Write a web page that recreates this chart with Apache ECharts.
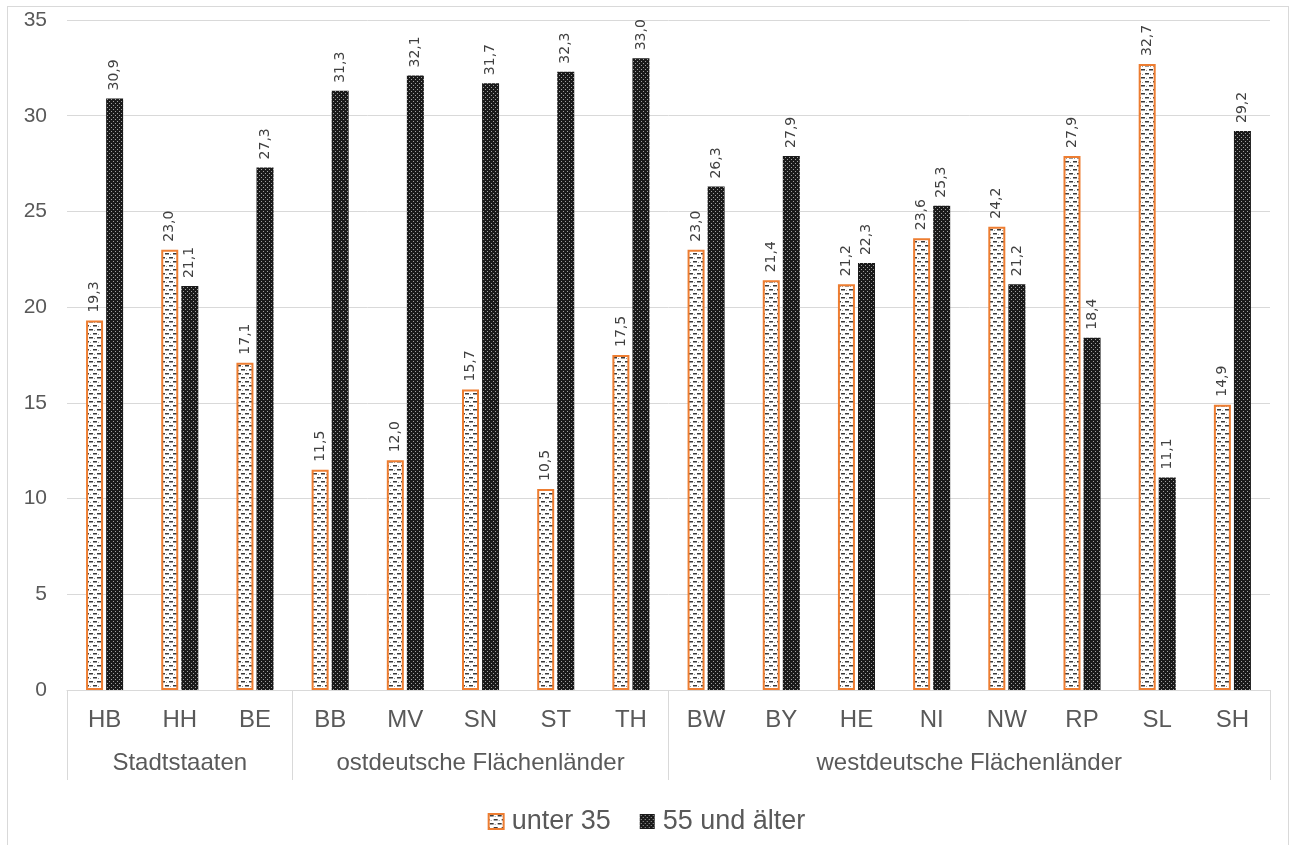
<!DOCTYPE html>
<html>
<head>
<meta charset="utf-8">
<script src="https://cdn.jsdelivr.net/npm/echarts@6/dist/echarts.min.js"></script>
<style>
html,body{margin:0;padding:0;background:#fff;}
#frame{position:absolute;left:7px;top:6px;width:1282px;height:845px;border:1px solid #d9d9d9;box-sizing:border-box;}
#chart{position:absolute;left:0;top:0;width:1293px;height:845px;}
</style>
</head>
<body>
<div id="frame"></div>
<div id="chart"></div>
<script>
const states = ['HB','HH','BE','BB','MV','SN','ST','TH','BW','BY','HE','NI','NW','RP','SL','SH'];
const groups = ['Stadtstaaten','ostdeutsche Flächenländer','westdeutsche Flächenländer'];
const groupSizes = [3,5,8];
const unter35 = [19.3,23.0,17.1,11.5,12.0,15.7,10.5,17.5,23.0,21.4,21.2,23.6,24.2,27.9,32.7,14.9];
const ab55 = [30.9,21.1,27.3,31.3,32.1,31.7,32.3,33.0,26.3,27.9,22.3,25.3,21.2,18.4,11.1,29.2];
const yTicks = [0,5,10,15,20,25,30,35];

// group boundaries and centers derived from sizes
const bounds = [0];
groupSizes.forEach(s => bounds.push(bounds[bounds.length-1] + s));
const centers = groupSizes.map((s,i) => bounds[i] + s/2);

function makePattern(kind){
  const c = document.createElement('canvas');
  if(kind==='light'){
    c.width = 8; c.height = 8;
    const g = c.getContext('2d');
    g.fillStyle = '#ffffff'; g.fillRect(0,0,8,8);
    g.fillStyle = '#3a3a3a';
    g.fillRect(1,1,4,1.5);
    g.fillRect(5,5,3,1.5);
    g.fillRect(0,5,1,1.5);
    g.fillStyle = '#9a9a9a';
    g.fillRect(6,2,1,1);
    g.fillRect(2,6,1,1);
  } else {
    c.width = 4; c.height = 4;
    const g = c.getContext('2d');
    g.fillStyle = '#1a1a1a'; g.fillRect(0,0,4,4);
    g.fillStyle = '#a0a0a0';
    g.fillRect(1,1,1,1);
    g.fillRect(3,3,1,1);
  }
  return {image:c, repeat:'repeat'};
}

const fmt = v => v.toFixed(1).replace('.', ',');
const font = 'Liberation Sans';

const labelCfg = {
  show:true, position:'top', rotate:90, align:'left', verticalAlign:'middle',
  distance:8, color:'#404040', fontSize:14, fontFamily:'DejaVu Sans',
  formatter: p => fmt(p.value)
};

const chart = echarts.init(document.getElementById('chart'), null, {renderer:'canvas'});
chart.setOption({
  backgroundColor:'transparent',
  animation:false,
  grid:{left:67, right:23, top:20, bottom:155, containLabel:false},
  legend:{
    top:803, left:'center', icon:'rect', itemWidth:15, itemHeight:15, itemGap:29,
    textStyle:{fontSize:27, color:'#595959', fontFamily:font, padding:[0,0,0,3]},
    data:['unter 35','55 und älter']
  },
  xAxis:[
    {
      type:'category', data:states, position:'bottom', offset:0,
      axisLine:{show:true, lineStyle:{color:'#d9d9d9', width:1}},
      axisTick:{show:false},
      axisLabel:{fontSize:24, color:'#595959', fontFamily:font, margin:18}
    },
    {
      type:'value', min:0, max:states.length, position:'bottom', offset:0,
      axisLine:{show:false},
      splitLine:{show:false},
      axisTick:{show:true, length:90, customValues:bounds, lineStyle:{color:'#d9d9d9'}},
      axisLabel:{fontSize:24, color:'#595959', fontFamily:font, margin:61,
        customValues:centers,
        formatter: v => { const i = centers.indexOf(v); return i>=0 ? groups[i] : ''; }
      }
    }
  ],
  yAxis:{
    type:'value', min:yTicks[0], max:yTicks[yTicks.length-1], interval:5,
    axisLine:{show:false}, axisTick:{show:false},
    splitLine:{lineStyle:{color:'#d9d9d9', width:1}},
    axisLabel:{fontSize:21, color:'#595959', fontFamily:font, margin:20}
  },
  series:[
    {
      name:'unter 35', type:'bar', xAxisIndex:0, data:unter35,
      barWidth:17, barGap:'18%',
      itemStyle:{color:makePattern('light'), borderColor:'#ed7d31', borderWidth:2},
      label:labelCfg
    },
    {
      name:'55 und älter', type:'bar', xAxisIndex:0, data:ab55,
      barWidth:17, barGap:'18%',
      itemStyle:{color:makePattern('dark')},
      label:labelCfg
    }
  ]
});
</script>
</body>
</html>
